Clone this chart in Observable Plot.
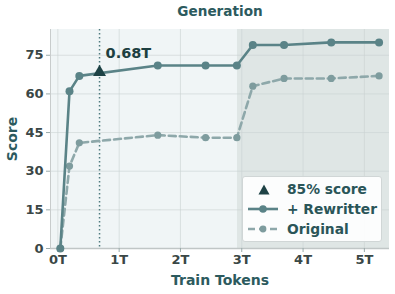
<!DOCTYPE html>
<html><head><meta charset="utf-8">
<script src="https://cdn.jsdelivr.net/npm/d3@7"></script>
<script src="https://cdn.jsdelivr.net/npm/@observablehq/plot@0.6"></script>
<style>
body{margin:0;background:#fff;font-family:"DejaVu Sans",sans-serif;}
#wrap{position:relative;width:395px;height:294px;}
#legend{position:absolute;left:242px;top:176px;width:140px;height:66px;box-sizing:border-box;border:1px solid #d0d6d6;border-radius:3px;background:rgba(255,255,255,0.9);}
#legend .row{position:absolute;left:0;height:20px;width:138px;}
#legend span{position:absolute;left:44px;top:1px;font-weight:bold;font-size:13.8px;line-height:18px;color:#2a5558;white-space:nowrap;}
</style></head>
<body><div id="wrap"></div>
<script>
const tokens = [0.04, 0.19, 0.35, 1.63, 2.41, 2.92, 3.18, 3.69, 4.46, 5.24];
const rewritter = [0, 61, 67, 71, 71, 71, 79, 79, 80, 80];
const original = [0, 32, 41, 44, 43, 43, 63, 66, 66, 67];
const markerX = [0.68];
const markerY = [68];
const markerLabel = ["0.68T"];
const regions = [[-0.12, 2.93, "#f0f5f6"], [2.93, 5.41, "#dfe6e5"]];
const xTicks = [0, 1, 2, 3, 4, 5];
const yTicks = [0, 15, 30, 45, 60, 75];

const rw = tokens.map((t, i) => ({x: t, y: rewritter[i]}));
const og = tokens.map((t, i) => ({x: t, y: original[i]}));
const reg = regions.map(([a, b, c]) => ({x1: a, x2: b, fill: c}));
const mk = markerX.map((x, i) => ({x, y: markerY[i], label: markerLabel[i]}));

const solid = "#5a8387", light = "#8ea8aa", dark = "#1d4245", teal = "#2c5a5e", tickc = "#3a4746";

const chart = Plot.plot({
  width: 395, height: 294,
  marginLeft: 50, marginRight: 6, marginTop: 29, marginBottom: 46,
  style: {fontFamily: "DejaVu Sans", background: "transparent"},
  x: {domain: [-0.12, 5.41], ticks: xTicks, tickFormat: d => d + "T", label: null},
  y: {domain: [0, 85], ticks: yTicks, label: null},
  marks: [
    Plot.rect(reg, {x1: "x1", x2: "x2", y1: 0, y2: 85, fill: "fill"}),
    Plot.gridX(xTicks, {stroke: "#c9d2d2", strokeOpacity: 0.6}),
    Plot.gridY(yTicks, {stroke: "#c9d2d2", strokeOpacity: 0.6}),
    Plot.ruleX([-0.12], {stroke: "#c8cccc", strokeWidth: 1}),
    Plot.ruleY([0], {stroke: "#c0c6c6", strokeWidth: 1.5}),
    Plot.axisX({ticks: xTicks, tickFormat: d => d + "T", tickSize: 4, stroke: "#9aa", fontSize: 13, fontWeight: "bold", fill: tickc, tickPadding: 2, label: null}),
    Plot.axisY({ticks: yTicks, tickSize: 4, stroke: "#9aa", fontSize: 13, fontWeight: "bold", fill: tickc, tickPadding: 3, label: null}),
    Plot.ruleX(markerX, {stroke: "#4f7a7e", strokeWidth: 1.5, strokeDasharray: "1.5,2.5"}),
    Plot.line(og, {x: "x", y: "y", stroke: light, strokeWidth: 2.6, strokeDasharray: "7,4"}),
    Plot.dot(og, {x: "x", y: "y", r: 3.6, fill: "#7e9c9e"}),
    Plot.line(rw, {x: "x", y: "y", stroke: solid, strokeWidth: 2.6}),
    Plot.dot(rw, {x: "x", y: "y", r: 4, fill: solid}),
    Plot.dot(mk, {x: "x", y: "y", symbol: "triangle", r: 4.8, fill: dark, dy: -1}),
    Plot.text(mk, {x: "x", y: 85, text: "label", dx: 6, dy: 24, textAnchor: "start", fontSize: 14.5, fontWeight: "bold", fill: "#1d3f41"}),
    Plot.text(["Generation"], {frameAnchor: "top", lineAnchor: "middle", dy: -18, fontSize: 13.6, fontWeight: "bold", fill: teal}),
    Plot.text(["Train Tokens"], {frameAnchor: "bottom", lineAnchor: "middle", dy: 32, fontSize: 14, fontWeight: "bold", fill: teal}),
    Plot.text(["Score"], {frameAnchor: "left", textAnchor: "middle", lineAnchor: "middle", dx: -38, rotate: -90, fontSize: 14, fontWeight: "bold", fill: teal})
  ]
});
const wrap = document.getElementById("wrap");
wrap.appendChild(chart);

const legendItems = [
  {label: "85% score", kind: "tri"},
  {label: "+ Rewritter", kind: "solid"},
  {label: "Original", kind: "dash"}
];
const lg = document.createElement("div");
lg.id = "legend";
legendItems.forEach((it, i) => {
  const row = document.createElement("div");
  row.className = "row";
  row.style.top = (2 + i * 20) + "px";
  let sym = "";
  if (it.kind === "tri") sym = `<svg width="40" height="20" style="position:absolute;left:2px;top:0"><path d="M13.5,15.5 L24.5,15.5 L19,5.5 Z" fill="${dark}"/></svg>`;
  if (it.kind === "solid") sym = `<svg width="40" height="20" style="position:absolute;left:2px;top:0"><line x1="3" x2="33" y1="10" y2="10" stroke="${solid}" stroke-width="2.6"/><circle cx="18" cy="10" r="3.8" fill="${solid}"/></svg>`;
  if (it.kind === "dash") sym = `<svg width="40" height="20" style="position:absolute;left:2px;top:0"><line x1="3" x2="33" y1="10" y2="10" stroke="${light}" stroke-width="2.6" stroke-dasharray="7,4"/><circle cx="18" cy="10" r="3.4" fill="#7e9c9e"/></svg>`;
  row.innerHTML = sym + `<span>${it.label}</span>`;
  lg.appendChild(row);
});
wrap.appendChild(lg);
</script></body></html>
